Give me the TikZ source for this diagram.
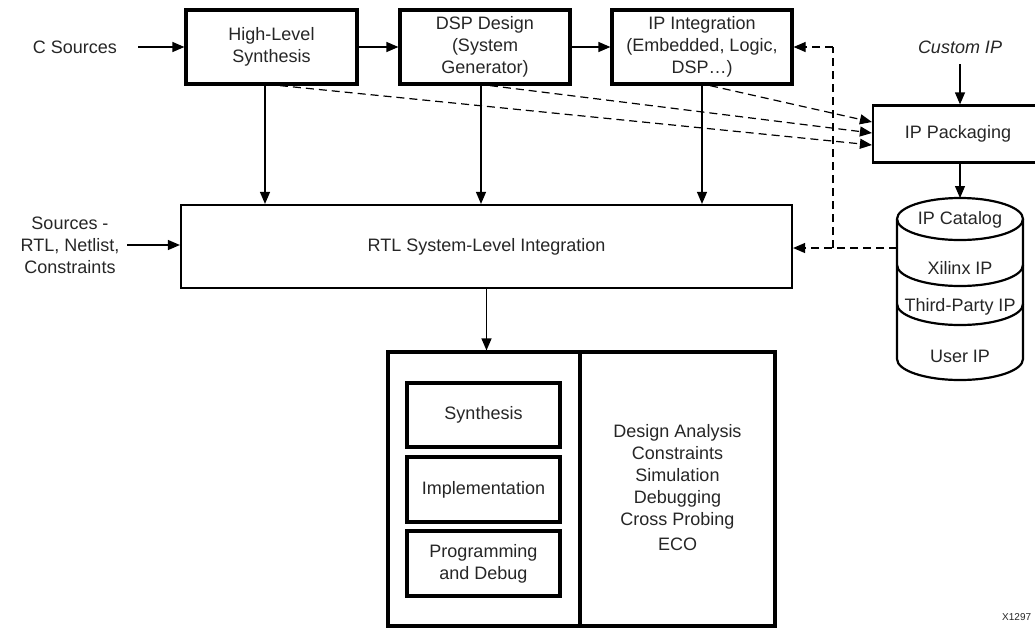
\documentclass[tikz,border=0pt]{standalone}
\usepackage{fontspec}
\setmainfont{Liberation Sans}
\usetikzlibrary{arrows.meta,calc}
\begin{document}
\begin{tikzpicture}[x=1pt,y=-1pt,
  every node/.style={font=\fontsize{18}{22}\selectfont,text=black!85,align=center,inner sep=0pt},
  heavybox/.style={draw=black,line width=3.2pt,fill=white},
  medbox/.style={draw=black,line width=2.2pt,fill=white},
  arr/.style={line width=1.2pt,-{Triangle[length=12pt,width=10pt]}},
  darr/.style={line width=1.2pt,dash pattern=on 8pt off 5pt,-{Triangle[length=12pt,width=10pt]}},
  dline/.style={line width=1.2pt,dash pattern=on 8pt off 5pt}]
\useasboundingbox (0,0) rectangle (1035,635);

% top row
\node[heavybox,minimum width=171pt,minimum height=74pt] (hls) at (271.5,47) {High-Level\\Synthesis};
\node[heavybox,minimum width=170pt,minimum height=74pt] (dsp) at (485,47) {DSP Design\\(System\\Generator)};
\node[heavybox,minimum width=180pt,minimum height=74pt] (ipi) at (702,47) {IP Integration\\(Embedded, Logic,\\DSP\ldots)};
\node (cs) at (75,47) {C Sources};

% IP packaging
\node[font=\fontsize{18}{22}\selectfont\itshape] (cip) at (960,47) {Custom IP};
\node[medbox,minimum width=167pt,minimum height=57pt] (pkg) at (956.5,134) {};
\node (pkgt) at (958,134) {IP Packaging};

% RTL
\node[medbox,minimum width=611pt,minimum height=83pt] (rtl) at (486.5,246.5) {RTL System-Level Integration};
\node (src) at (70,245) {Sources -\\RTL, Netlist,\\Constraints};

% bottom box
\node[heavybox,minimum width=192pt,minimum height=274pt] (left) at (484,489) {};
\node[heavybox,minimum width=195pt,minimum height=274pt] (right) at (677.5,489) {};
\node (ana) at (677.5,488) {Design Analysis\\Constraints\\Simulation\\Debugging\\Cross Probing\\[3pt]ECO};
\node[heavybox,minimum width=153pt,minimum height=64pt] (syn) at (483.5,415) {Synthesis};
\node[heavybox,minimum width=153pt,minimum height=65pt] (imp) at (483.5,489.5) {Implementation};
\node[heavybox,minimum width=153pt,minimum height=65pt] (prg) at (483.5,563.5) {Programming\\and Debug};

% catalog cylinder
\begin{scope}[line width=2.2pt]
  \fill[white] (897,219) -- (897,359) arc[start angle=180,end angle=360,x radius=63,y radius=-21] -- (1023,219) -- cycle;
  \draw (897,219) -- (897,359) arc[start angle=180,end angle=360,x radius=63,y radius=-21] -- (1023,219);
  \draw (960,219) ellipse[x radius=63,y radius=21];
  \draw (897,265) arc[start angle=180,end angle=360,x radius=63,y radius=-21];
  \draw (897,304) arc[start angle=180,end angle=360,x radius=63,y radius=-21];
\end{scope}
\node (cat) at (960,220) {IP Catalog};
\node (xil) at (960,268) {Xilinx IP};
\node (thp) at (960,307) {Third-Party IP};
\node (usr) at (960,356) {User IP};
\coordinate (catL) at (897,248);
\coordinate (catT) at (960,198);
\coordinate (jn) at (833,248);

\node[font=\fontsize{10}{11}\selectfont,anchor=west] (xid) at (1002,617) {X1297};

% solid connectors
\draw[arr] ([xshift=63pt]cs.center) -- (hls.west);
\draw[arr] (hls.east) -- (dsp.west);
\draw[arr] (dsp.east) -- (ipi.west);
\draw[arr] ([xshift=-6.5pt]hls.south) -- ([xshift=-6.5pt]hls.south |- rtl.north);
\draw[arr] ([xshift=-4pt]dsp.south) -- ([xshift=-4pt]dsp.south |- rtl.north);
\draw[arr] (ipi.south) -- (ipi.south |- rtl.north);
\draw[arr] ([xshift=57pt]src.center) -- (src.center -| rtl.west);
\draw[arr] (rtl.south) -- (rtl.south |- left.north);
\draw[arr] ([yshift=-17pt]cip.center) -- (cip.center |- pkg.north);
\draw[arr] (pkg.south -| catT) -- (catT);

% dashed connectors
\draw[darr] ([xshift=8.5pt]hls.south) -- ([yshift=-11pt]pkg.west);
\draw[darr] ([xshift=5pt]dsp.south) -- ([yshift=1pt]pkg.west);
\draw[darr] ([xshift=8pt]ipi.south) -- ([yshift=12pt]pkg.west);
\draw[darr] (catL) -- (catL -| rtl.east);
\draw[dline] (jn) -- (jn |- ipi.east);
\draw[darr] (jn |- ipi.east) -- (ipi.east);
\end{tikzpicture}
\end{document}
